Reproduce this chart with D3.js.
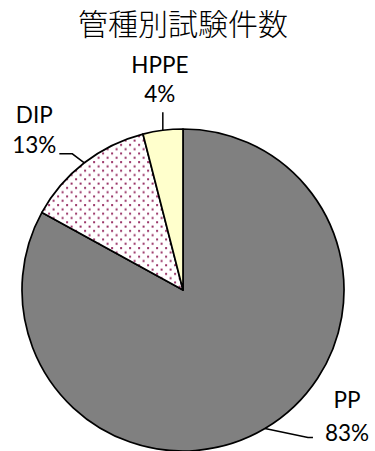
<!DOCTYPE html>
<html>
<head>
<meta charset="utf-8">
<script src="https://cdn.jsdelivr.net/npm/d3@7"></script>
<style>
  html, body { margin: 0; padding: 0; background: #fff; }
  svg { display: block; }
</style>
</head>
<body>
<svg id="chart" width="375" height="451"></svg>
<script>
// Test counts by pipe type (share, %)
const categories = ["PP", "DIP", "HPPE"];
const shares = [83, 13, 4];
const title = "管種別試験件数";

const W = 375, H = 451;
const cx = 183, cy = 290, R = 161;

const svg = d3.select("#chart");

// Dotted fill used for the DIP slice
const defs = svg.append("defs");
const pat = defs.append("pattern")
  .attr("id", "dots")
  .attr("patternUnits", "userSpaceOnUse")
  .attr("width", 9).attr("height", 8.6);
pat.append("rect").attr("width", 9).attr("height", 8.6).attr("fill", "#fff");
pat.append("rect").attr("x", 0.1).attr("y", 0.1).attr("width", 2).attr("height", 2).attr("fill", "#993366");
pat.append("rect").attr("x", 4.6).attr("y", 4.4).attr("width", 2).attr("height", 2).attr("fill", "#993366");

const fills = { PP: "#808080", DIP: "url(#dots)", HPPE: "#ffffcc" };

const data = categories.map((c, i) => ({ name: c, value: shares[i] }));

const pie = d3.pie().value(d => d.value).sort(null);
const arcs = pie(data);
const arc = d3.arc().innerRadius(0).outerRadius(R);

const g = svg.append("g").attr("transform", `translate(${cx},${cy})`);

g.selectAll("path.slice")
  .data(arcs)
  .join("path")
  .attr("class", "slice")
  .attr("d", arc)
  .attr("fill", d => fills[d.data.name])
  .attr("stroke", "#000")
  .attr("stroke-width", 1.7)
  .attr("stroke-linejoin", "round");

// Title
svg.append("text")
  .attr("x", 183).attr("y", 35)
  .attr("text-anchor", "middle")
  .attr("font-family", "'Noto Sans CJK JP', sans-serif")
  .attr("font-weight", 300)
  .attr("font-size", 30)
  .attr("fill", "#000")
  .text(title);

// Label layout: leader bends and text anchors relative to the arc midpoint
const labelLayout = {
  PP:   { bend: [43, 9], end: [48, 9], text: [82, -21], anchor: "middle", line2: 33 },
  DIP:  { bend: [-12, -9], end: [-25, -9], text: [-50, -40], anchor: "middle", line2: 30 },
  HPPE: { bend: [0, -18], end: [0, -18], text: [-3, -57], anchor: "middle", line2: 29 }
};

const lab = svg.append("g")
  .attr("font-family", "Lato, 'Open Sans', sans-serif")
  .attr("font-size", 22.5)
  .attr("fill", "#000");

arcs.forEach(a => {
  const mid = (a.startAngle + a.endAngle) / 2;
  const px = cx + R * Math.sin(mid);
  const py = cy - R * Math.cos(mid);
  const L = labelLayout[a.data.name];
  const pts = [[px, py], [px + L.bend[0], py + L.bend[1]], [px + L.end[0], py + L.end[1]]];
  lab.append("path")
    .attr("d", d3.line()(pts))
    .attr("fill", "none")
    .attr("stroke", "#000")
    .attr("stroke-width", 1.5);
  const tx = px + L.text[0], ty = py + L.text[1];
  lab.append("text")
    .attr("x", tx).attr("y", ty)
    .attr("text-anchor", L.anchor)
    .text(a.data.name);
  lab.append("text")
    .attr("x", tx).attr("y", ty + L.line2)
    .attr("text-anchor", L.anchor)
    .text(a.data.value + "%");
});
</script>
</body>
</html>
